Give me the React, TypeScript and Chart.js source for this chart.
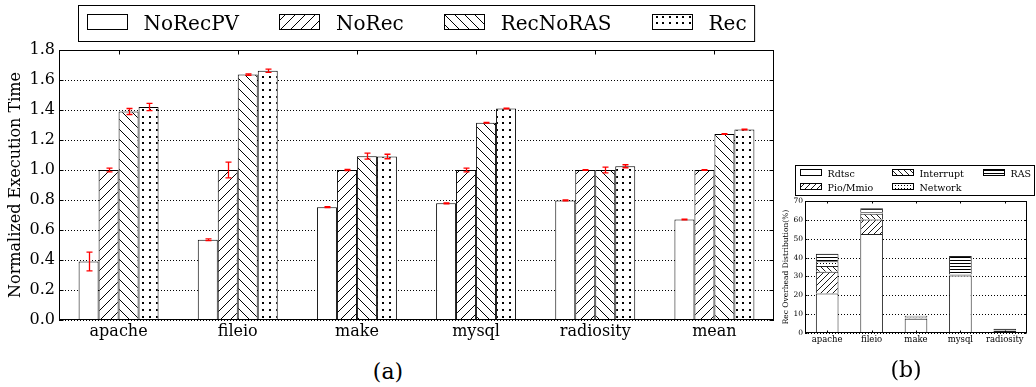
import React, { useEffect, useRef } from "react";
import { Chart, registerables } from "chart.js";
Chart.register(...registerables);

const FONT = "'DejaVu Serif', serif";

// ---------- (a) data ----------
const categoriesA = ["apache", "fileio", "make", "mysql", "radiosity", "mean"];
const seriesA = ["NoRecPV", "NoRec", "RecNoRAS", "Rec"];
const valNoRecPV = [0.39, 0.535, 0.752, 0.778, 0.797, 0.67];
const valNoRec = [1.0, 1.0, 1.0, 1.0, 1.0, 1.0];
const valRecNoRAS = [1.39, 1.636, 1.092, 1.315, 1.0, 1.24];
const valRec = [1.42, 1.662, 1.09, 1.41, 1.025, 1.27];
const errNoRecPV = [0.062, 0.006, 0.003, 0.003, 0.003, 0.003];
const errNoRec = [0.012, 0.053, 0.004, 0.012, 0.003, 0.002];
const errRecNoRAS = [0.02, 0.005, 0.02, 0.003, 0.019, 0.003];
const errRec = [0.024, 0.011, 0.015, 0.003, 0.01, 0.003];
const yMinA = 0;
const yMaxA = 1.8;
const yStepA = 0.2;

// ---------- (b) data ----------
const categoriesB = ["apache", "fileio", "make", "mysql", "radiosity"];
const seriesB = ["Rdtsc", "Pio/Mmio", "Interrupt", "Network", "RAS"];
const valRdtsc = [21, 52.5, 7.5, 30.5, 1.0];
const valPio = [11.5, 7.7, 0.3, 0.2, 0.2];
const valInterrupt = [3, 3, 0.3, 0.2, 0.1];
const valNetwork = [2.5, 0.9, 0.3, 0.2, 0.1];
const valRAS = [4, 2.1, 0.7, 9.7, 0.8];
const yMaxB = 70;
const yStepB = 10;

type Hatch = "none" | "/" | "\\" | "." | "-";

function makePattern(kind: Hatch, p: number, lw: number, n = 1, dot = 2): any {
  if (kind === "none") return "#ffffff";
  const c = document.createElement("canvas");
  c.width = p;
  c.height = p;
  const g = c.getContext("2d")!;
  g.fillStyle = "#fff";
  g.fillRect(0, 0, p, p);
  g.strokeStyle = "#000";
  g.fillStyle = "#000";
  g.lineWidth = lw;
  g.beginPath();
  if (kind === "/") {
    g.moveTo(-p, p);
    g.lineTo(p, -p);
    g.moveTo(0, p);
    g.lineTo(p, 0);
    g.moveTo(0, 2 * p);
    g.lineTo(2 * p, 0);
    g.stroke();
  } else if (kind === "\\") {
    g.moveTo(0, 0);
    g.lineTo(p, p);
    g.moveTo(-p, 0);
    g.lineTo(p, 2 * p);
    g.moveTo(0, -p);
    g.lineTo(2 * p, p);
    g.stroke();
  } else if (kind === ".") {
    for (let i = 0; i < n; i++)
      for (let j = 0; j < n; j++) {
        const cx = ((i + 0.5) * p) / n;
        const cy = ((j + 0.5) * p) / n;
        g.fillRect(Math.round(cx - dot / 2), Math.round(cy - dot / 2), dot, dot);
      }
  } else if (kind === "-") {
    g.fillRect(0, Math.round(p / 2 - lw / 2), p, lw);
  }
  return g.createPattern(c, "repeat");
}

function axesPlugin(id: string, tickLen: number, bottomTicks: boolean) {
  return {
    id,
    beforeDatasetsDraw(chart: any) {
      const { ctx, chartArea: a, scales } = chart;
      const y = scales.y;
      ctx.save();
      ctx.strokeStyle = "#000";
      ctx.lineWidth = 1;
      ctx.setLineDash([1, 2]);
      y.ticks.forEach((t: any) => {
        const py = Math.round(y.getPixelForValue(t.value)) + 0.5;
        ctx.beginPath();
        ctx.moveTo(a.left, py);
        ctx.lineTo(a.right, py);
        ctx.stroke();
      });
      ctx.restore();
    },
    afterDatasetsDraw(chart: any) {
      const { ctx, chartArea: a, scales } = chart;
      const x = scales.x;
      const y = scales.y;
      ctx.save();
      ctx.strokeStyle = "#000";
      ctx.lineWidth = 1;
      const L = Math.round(a.left) + 0.5;
      const R = Math.round(a.right) - 0.5;
      const T = Math.round(a.top) + 0.5;
      const B = Math.round(a.bottom) - 0.5;
      ctx.beginPath();
      y.ticks.forEach((t: any) => {
        const py = Math.round(y.getPixelForValue(t.value)) + 0.5;
        ctx.moveTo(L, py);
        ctx.lineTo(L + tickLen, py);
        ctx.moveTo(R, py);
        ctx.lineTo(R - tickLen, py);
      });
      x.ticks.forEach((_t: any, i: number) => {
        const px = Math.round(x.getPixelForTick(i)) + 0.5;
        ctx.moveTo(px, T);
        ctx.lineTo(px, T + tickLen);
        if (bottomTicks) {
          ctx.moveTo(px, B);
          ctx.lineTo(px, B - tickLen);
        }
      });
      ctx.stroke();
      ctx.strokeRect(L, T, R - L, B - T);
      ctx.restore();
    },
  };
}

const errorsA = [errNoRecPV, errNoRec, errRecNoRAS, errRec];

const errorBarPlugin = {
  id: "errbars",
  afterDatasetsDraw(chart: any) {
    const { ctx } = chart;
    const y = chart.scales.y;
    ctx.save();
    ctx.strokeStyle = "#ff0000";
    ctx.lineWidth = 1.3;
    chart.data.datasets.forEach((ds: any, i: number) => {
      const meta = chart.getDatasetMeta(i);
      meta.data.forEach((el: any, j: number) => {
        const v = ds.data[j];
        const e = errorsA[i][j];
        const yt = y.getPixelForValue(v + e);
        const yb = y.getPixelForValue(v - e);
        const px = Math.round(el.x) + 0.5;
        ctx.beginPath();
        ctx.moveTo(px, yt);
        ctx.lineTo(px, yb);
        ctx.moveTo(px - 3, yt);
        ctx.lineTo(px + 3, yt);
        ctx.moveTo(px - 3, yb);
        ctx.lineTo(px + 3, yb);
        ctx.stroke();
      });
    });
    ctx.restore();
  },
};

const legendAPlugin = {
  id: "legendA",
  afterDraw(chart: any) {
    const { ctx, chartArea: a } = chart;
    ctx.save();
    ctx.font = `20px ${FONT}`;
    const ds = chart.data.datasets;
    const widths = ds.map((d: any) => ctx.measureText(d.label).width);
    const boxW = 40,
      boxH = 15,
      gapBT = 17,
      gapItem = 40,
      pad = 8;
    let total = 0;
    widths.forEach((w: number) => (total += boxW + gapBT + w));
    total += gapItem * (ds.length - 1);
    const fw = total + 2 * pad;
    const cx = (a.left + a.right) / 2;
    const fx = Math.round(cx - fw / 2) + 0.5;
    const fy = 5.5;
    const fh = 36;
    ctx.strokeStyle = "#000";
    ctx.lineWidth = 1;
    ctx.fillStyle = "#fff";
    ctx.fillRect(fx, fy, fw, fh);
    ctx.strokeRect(fx, fy, fw, fh);
    let xx = fx + pad;
    ds.forEach((d: any, i: number) => {
      const bx = Math.round(xx) + 0.5;
      ctx.fillStyle = d.backgroundColor;
      ctx.fillRect(bx, 14.5, boxW, boxH);
      ctx.strokeStyle = "#000";
      ctx.strokeRect(bx, 14.5, boxW, boxH);
      ctx.fillStyle = "#000";
      ctx.textBaseline = "alphabetic";
      ctx.textAlign = "left";
      ctx.fillText(d.label, xx + boxW + gapBT, 29.5);
      xx += boxW + gapBT + widths[i] + gapItem;
    });
    ctx.restore();
  },
};

const legendBPlugin = {
  id: "legendB",
  afterDraw(chart: any) {
    const { ctx, chartArea: a } = chart;
    ctx.save();
    ctx.font = `9.5px ${FONT}`;
    const ds = chart.data.datasets;
    const fx = Math.round(a.left) - 10 + 0.5;
    const fy = 5.5;
    const fw = 239;
    const fh = 30;
    ctx.fillStyle = "#fff";
    ctx.fillRect(fx, fy, fw, fh);
    ctx.strokeStyle = "#000";
    ctx.lineWidth = 1;
    ctx.strokeRect(fx, fy, fw, fh);
    const boxW = 21,
      boxH = 6,
      gapBT = 7;
    const colOffsets = [4, 96, 187];
    const rowsBox = [9.5, 23.5];
    const rowsText = [16.8, 30.8];
    const ncol = Math.ceil(ds.length / 2);
    for (let c = 0; c < ncol; c++) {
      const colX = fx + colOffsets[c];
      for (let r = 0; r < 2; r++) {
        const k = c * 2 + r;
        if (k >= ds.length) continue;
        const d = ds[k];
        const bx = Math.round(colX) + 0.5;
        ctx.fillStyle = d.backgroundColor;
        ctx.fillRect(bx, rowsBox[r], boxW, boxH);
        ctx.strokeStyle = "#000";
        ctx.strokeRect(bx, rowsBox[r], boxW, boxH);
        ctx.fillStyle = "#000";
        ctx.textAlign = "left";
        ctx.textBaseline = "alphabetic";
        ctx.fillText(d.label, colX + boxW + gapBT, rowsText[r]);
      }
    }
    ctx.restore();
  },
};

export default function App() {
  const refA = useRef<HTMLCanvasElement>(null);
  const refB = useRef<HTMLCanvasElement>(null);

  useEffect(() => {
    const patA = [
      makePattern("none", 10, 1),
      makePattern("/", 10, 1),
      makePattern("\\", 10, 1),
      makePattern(".", 20, 1, 3, 2),
    ];
    const valsA = [valNoRecPV, valNoRec, valRecNoRAS, valRec];
    const chartA = new Chart(refA.current!, {
      type: "bar",
      data: {
        labels: categoriesA,
        datasets: seriesA.map((name, i) => ({
          label: name,
          data: valsA[i],
          backgroundColor: patA[i],
          borderColor: "#000",
          borderWidth: 1,
          barPercentage: 1,
          categoryPercentage: 0.671,
        })),
      },
      options: {
        animation: false,
        responsive: false,
        maintainAspectRatio: false,
        devicePixelRatio: 1,
        layout: { padding: { top: 50, right: 16, left: 0, bottom: 0 } },
        plugins: { legend: { display: false }, tooltip: { enabled: false } },
        scales: {
          x: {
            grid: { display: false, drawTicks: false },
            border: { display: false },
            ticks: { font: { family: FONT, size: 16 }, color: "#000", padding: 2, maxRotation: 0 },
            afterFit: (s: any) => {
              s.height = 25;
            },
          },
          y: {
            min: yMinA,
            max: yMaxA,
            grid: { display: false, drawTicks: false },
            border: { display: false },
            ticks: {
              stepSize: yStepA,
              font: { family: FONT, size: 16 },
              color: "#000",
              padding: 4,
              callback: (v: any) => Number(v).toFixed(1),
            },
            title: {
              display: true,
              text: "Normalized Execution Time",
              font: { family: FONT, size: 16 },
              color: "#000",
              padding: { top: 6, bottom: 0 },
            },
            afterFit: (s: any) => {
              s.width = 59;
            },
          },
        },
      } as any,
      plugins: [axesPlugin("axesA", 4, false), errorBarPlugin, legendAPlugin],
    });

    const patB = [
      makePattern("none", 6, 1),
      makePattern("/", 6, 0.9),
      makePattern("\\", 6, 0.9),
      makePattern(".", 3, 1, 1, 1),
      makePattern("-", 3, 1),
    ];
    const valsB = [valRdtsc, valPio, valInterrupt, valNetwork, valRAS];
    const chartB = new Chart(refB.current!, {
      type: "bar",
      data: {
        labels: categoriesB,
        datasets: seriesB.map((name, i) => ({
          label: name,
          data: valsB[i],
          backgroundColor: patB[i],
          borderColor: "#222",
          borderWidth: 1,
          barPercentage: 0.51,
          categoryPercentage: 1,
        })),
      },
      options: {
        animation: false,
        responsive: false,
        maintainAspectRatio: false,
        devicePixelRatio: 1,
        layout: { padding: { top: 41, right: 9, left: 0, bottom: 0 } },
        plugins: { legend: { display: false }, tooltip: { enabled: false } },
        scales: {
          x: {
            stacked: true,
            grid: { display: false, drawTicks: false },
            border: { display: false },
            ticks: { font: { family: FONT, size: 8.5 }, color: "#000", padding: 2, maxRotation: 0 },
            afterFit: (s: any) => {
              s.height = 22;
            },
          },
          y: {
            stacked: true,
            min: 0,
            max: yMaxB,
            grid: { display: false, drawTicks: false },
            border: { display: false },
            ticks: { stepSize: yStepB, font: { family: FONT, size: 7.5 }, color: "#000", padding: 2 },
            title: {
              display: true,
              text: "Rec Overhead Distribution(%)",
              font: { family: FONT, size: 7.5 },
              color: "#000",
              padding: { top: 1.5, bottom: 0 },
            },
            afterFit: (s: any) => {
              s.width = 25;
            },
          },
        },
      } as any,
      plugins: [axesPlugin("axesB", 2, true), legendBPlugin],
    });

    return () => {
      chartA.destroy();
      chartB.destroy();
    };
  }, []);

  return (
    <div
      style={{
        position: "absolute",
        left: 0,
        top: 0,
        width: 1036,
        height: 387,
        background: "#fff",
        overflow: "hidden",
      }}
    >
      <canvas
        ref={refA}
        width={790}
        height={345}
        style={{ position: "absolute", left: 0, top: 0, width: 790, height: 345 }}
      />
      <canvas
        ref={refB}
        width={256}
        height={195}
        style={{ position: "absolute", left: 780, top: 160, width: 256, height: 195 }}
      />
      <div
        style={{
          position: "absolute",
          left: 338,
          top: 359,
          width: 100,
          textAlign: "center",
          font: `22px ${FONT}`,
          lineHeight: "26px",
        }}
      >
        (a)
      </div>
      <div
        style={{
          position: "absolute",
          left: 856,
          top: 357,
          width: 100,
          textAlign: "center",
          font: `22px ${FONT}`,
          lineHeight: "26px",
        }}
      >
        (b)
      </div>
    </div>
  );
}
